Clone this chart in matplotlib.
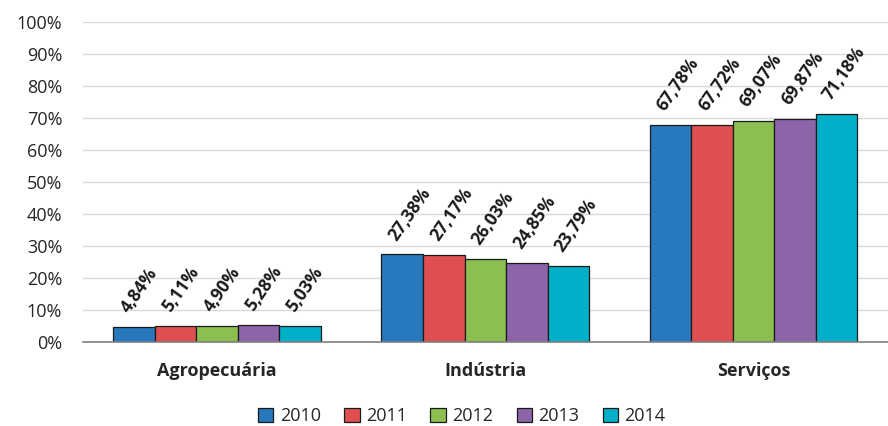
import numpy as np
import matplotlib.pyplot as plt
from matplotlib.patches import Patch

plt.rcParams["font.family"] = ["Open Sans", "DejaVu Sans"]

CATEGORIES = ["Agropecuária", "Indústria", "Serviços"]
YEARS = ["2010", "2011", "2012", "2013", "2014"]
VALUES = {
    "2010": [4.84, 27.38, 67.78],
    "2011": [5.11, 27.17, 67.72],
    "2012": [4.90, 26.03, 69.07],
    "2013": [5.28, 24.85, 69.87],
    "2014": [5.03, 23.79, 71.18],
}
COLORS = ["#2878BD", "#E04F4F", "#8CBF4F", "#8C64A8", "#00AFC8"]


def fmt(v):
    return f"{v:.2f}".replace(".", ",") + "%"


def main():
    fig = plt.figure(figsize=(8.88, 4.26), dpi=100)
    ax = fig.add_axes([0.0935, 0.197, 0.906, 0.751])

    x = np.arange(len(CATEGORIES))
    width = 0.155
    for i, (year, color) in enumerate(zip(YEARS, COLORS)):
        pos = x + (i - 2) * width
        vals = VALUES[year]
        ax.bar(pos, vals, width, color=color, edgecolor="#1a1a1a",
               linewidth=0.9, label=year, zorder=3)
        for px, v in zip(pos, vals):
            ax.text(px - 0.035, v + 5.0, fmt(v), rotation=55,
                    rotation_mode="anchor", ha="left", va="center",
                    fontsize=12.5, fontweight="bold", color="#1a1a1a")

    ax.set_xlim(-0.5, 2.5)
    ax.set_ylim(0, 100)
    ax.set_yticks(np.arange(0, 101, 10))
    ax.set_yticklabels([f"{t}%" for t in range(0, 101, 10)])
    ax.set_xticks(x)
    ax.set_xticklabels(CATEGORIES, fontweight="bold")
    ax.tick_params(axis="both", length=0, labelsize=13, colors="#262626")
    ax.tick_params(axis="x", pad=14)
    ax.tick_params(axis="y", pad=15)
    ax.grid(axis="y", color="#D9D9D9", linewidth=1.0, zorder=0)
    for side in ["top", "right", "left"]:
        ax.spines[side].set_visible(False)
    ax.spines["bottom"].set_color("#808080")
    ax.spines["bottom"].set_linewidth(1.2)
    ax.spines["bottom"].set_zorder(4)

    handles = [Patch(facecolor=c, edgecolor="#1a1a1a", linewidth=0.9, label=y)
               for y, c in zip(YEARS, COLORS)]
    fig.legend(handles=handles, loc="lower center", ncol=5, frameon=False,
               bbox_to_anchor=(0.52, -0.036), fontsize=13,
               handlelength=0.85, handleheight=0.85, handletextpad=0.35,
               columnspacing=1.3, labelcolor="#262626")

    fig.savefig("out.png", dpi=100)


if __name__ == "__main__":
    main()
